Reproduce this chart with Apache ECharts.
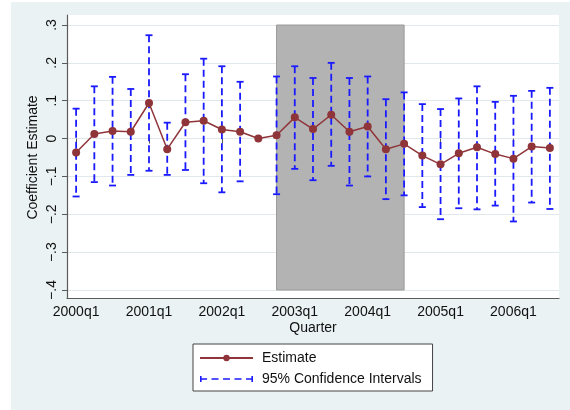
<!DOCTYPE html>
<html>
<head>
<meta charset="utf-8">
<script src="https://cdn.jsdelivr.net/npm/echarts@6/dist/echarts.min.js"></script>
<style>
  html, body { margin: 0; padding: 0; background: #ffffff; }
  #chart { width: 570px; height: 410px; }
</style>
</head>
<body>
<div id="chart"></div>
<script>
// Quarterly coefficient estimates with 95% confidence bounds
const quarters = [
  '2000q1', '2000q2', '2000q3', '2000q4',
  '2001q1', '2001q2', '2001q3', '2001q4',
  '2002q1', '2002q2', '2002q3', '2002q4',
  '2003q1', '2003q2', '2003q3', '2003q4',
  '2004q1', '2004q2', '2004q3', '2004q4',
  '2005q1', '2005q2', '2005q3', '2005q4',
  '2006q1', '2006q2', '2006q3'
];
const estimate = [
  -0.037, 0.012, 0.020, 0.018,
  0.094, -0.028, 0.043, 0.047,
  0.024, 0.018, 0.000, 0.009,
  0.056, 0.025, 0.063, 0.018,
  0.032, -0.028, -0.014, -0.045,
  -0.068, -0.039, -0.023, -0.041,
  -0.053, -0.021, -0.025
];
const upperCI = [
  0.079, 0.138, 0.163, 0.131,
  0.273, 0.042, 0.170, 0.211,
  0.191, 0.150, null, 0.164,
  0.191, 0.160, 0.200, 0.160,
  0.164, 0.104, 0.122, 0.091,
  0.078, 0.106, 0.138, 0.097,
  0.113, 0.126, 0.134
];
const lowerCI = [
  -0.153, -0.115, -0.124, -0.096,
  -0.085, -0.096, -0.083, -0.118,
  -0.142, -0.113, null, -0.147,
  -0.080, -0.110, -0.072, -0.124,
  -0.100, -0.160, -0.150, -0.181,
  -0.213, -0.184, -0.187, -0.177,
  -0.219, -0.169, -0.186
];
// Shaded period
const shadeStart = '2002q4';
const shadeEnd = '2004q3';
// Y-axis tick values and their labels
const yTicks = [-0.4, -0.3, -0.2, -0.1, 0, 0.1, 0.2, 0.3];
const yTickLabels = ['\u2212.4', '\u2212.3', '\u2212.2', '\u2212.1', '0', '.1', '.2', '.3'];

const FONT = 'Liberation Sans, Arial, Helvetica, sans-serif';
const AXIS_COLOR = '#5a5a5a';
const EST_COLOR = '#8f3539';
const CI_COLOR = '#1a1aff';

const ciData = quarters.map((q, i) =>
  upperCI[i] == null ? null : [i, lowerCI[i], upperCI[i]]
).filter(d => d !== null);

function renderCI(params, api) {
  const i = api.value(0);
  const lo = api.coord([i, api.value(1)]);
  const hi = api.coord([i, api.value(2)]);
  const half = 3.5;
  const solid = { stroke: CI_COLOR, lineWidth: 1.8 };
  return {
    type: 'group',
    children: [
      { type: 'line', shape: { x1: hi[0], y1: hi[1], x2: lo[0], y2: lo[1] },
        style: { stroke: CI_COLOR, lineWidth: 1.8, lineDash: [7, 4] } },
      { type: 'line', shape: { x1: hi[0] - half, y1: hi[1], x2: hi[0] + half, y2: hi[1] }, style: solid },
      { type: 'line', shape: { x1: lo[0] - half, y1: lo[1], x2: lo[0] + half, y2: lo[1] }, style: solid }
    ]
  };
}

const chart = echarts.init(document.getElementById('chart'), null, { renderer: 'canvas' });

const option = {
  animation: false,
  textStyle: { fontFamily: FONT },
  graphic: [
    { type: 'rect', z: -10, shape: { x: 11, y: 2, width: 570, height: 420 },
      style: { fill: '#eaf2f3' }, silent: true }
  ],
  grid: [
    // plot region backdrop with its left and bottom frame
    { left: 67, right: 11, top: 15, bottom: 112, show: true,
      backgroundColor: '#ffffff', borderWidth: 0 },
    // data area
    { left: 67, right: 11, top: 25, bottom: 120 }
  ],
  xAxis: [
    { gridIndex: 0, type: 'value', min: 0, max: 1,
      axisLine: { show: true, onZero: false, lineStyle: { color: AXIS_COLOR, width: 1.2 } },
      axisTick: { show: false }, axisLabel: { show: false }, splitLine: { show: false } },
    { gridIndex: 1, type: 'category', data: quarters, boundaryGap: true, offset: 8,
      name: 'Quarter', nameLocation: 'middle', nameGap: 23, nameMoveOverlap: false,
      nameTextStyle: { fontSize: 14, color: '#111', fontFamily: FONT },
      axisLine: { show: false },
      axisTick: { show: true, interval: 3, alignWithLabel: true, length: 5,
        lineStyle: { color: AXIS_COLOR, width: 1 } },
      axisLabel: { interval: 3, margin: 7, fontSize: 14, color: '#111', fontFamily: FONT },
      splitLine: { show: false } }
  ],
  yAxis: [
    { gridIndex: 0, type: 'value', min: 0, max: 1,
      axisLine: { show: true, lineStyle: { color: AXIS_COLOR, width: 1.2 } },
      axisTick: { show: false }, axisLabel: { show: false }, splitLine: { show: false } },
    { gridIndex: 1, type: 'value', min: -0.4, max: 0.3, interval: 0.1,
      name: 'Coefficient Estimate', nameLocation: 'middle', nameGap: 27, nameMoveOverlap: false,
      nameTextStyle: { fontSize: 14, color: '#111', fontFamily: FONT },
      axisLine: { show: false },
      axisTick: { show: true, length: 5, lineStyle: { color: AXIS_COLOR, width: 1 } },
      axisLabel: {
        rotate: 90, margin: 8, fontSize: 14, color: '#111', fontFamily: FONT,
        formatter: v => {
          const k = yTicks.findIndex(t => Math.abs(t - v) < 1e-6);
          return k >= 0 ? yTickLabels[k] : '';
        }
      },
      splitLine: { show: true, lineStyle: { color: '#e0e8eb', width: 1.2 } } }
  ],
  legend: {
    left: 193, top: 344, orient: 'vertical',
    padding: [7, 11, 5, 6],
    itemGap: 7,
    itemWidth: 53, itemHeight: 8,
    backgroundColor: '#ffffff',
    borderColor: '#444', borderWidth: 1,
    textStyle: { fontSize: 14, color: '#111', fontFamily: FONT, padding: [0, 0, 0, 4] },
    data: [
      { name: 'Estimate' },
      { name: '95% Confidence Intervals',
        icon: 'path://M0,0h1.6v6h-1.6z M1.6,2.2h5.5v1.6h-5.5z M11.5,2.2h7v1.6h-7z M23,2.2h7v1.6h-7z M34.5,2.2h7v1.6h-7z M46,2.2h5.4v1.6h-5.4z M51.4,0h1.6v6h-1.6z',
        itemStyle: { color: CI_COLOR } }
    ]
  },
  series: [
    {
      name: 'Estimate', type: 'line', xAxisIndex: 1, yAxisIndex: 1,
      data: estimate,
      symbol: 'circle', symbolSize: 8,
      itemStyle: { color: EST_COLOR },
      lineStyle: { color: EST_COLOR, width: 1.5 },
      markArea: {
        silent: true,
        itemStyle: { color: '#b3b3b3', borderColor: '#9a9a9a', borderWidth: 1 },
        data: [[{ xAxis: shadeStart, yAxis: -0.4 }, { xAxis: shadeEnd, yAxis: 0.3 }]]
      }
    },
    {
      name: '95% Confidence Intervals', type: 'custom', xAxisIndex: 1, yAxisIndex: 1,
      data: ciData, renderItem: renderCI, z: 3,
      itemStyle: { color: CI_COLOR },
      encode: { x: 0, y: [1, 2] }
    }
  ]
};

chart.setOption(option);
</script>
</body>
</html>
